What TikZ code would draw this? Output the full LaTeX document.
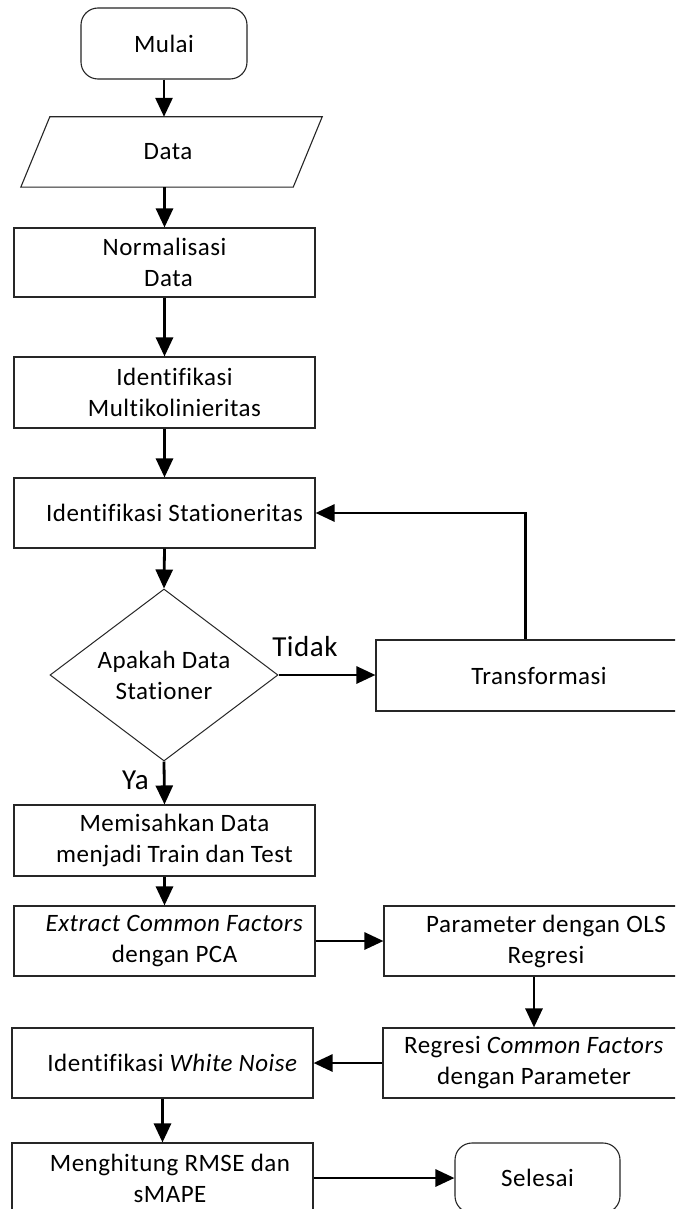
\documentclass[tikz,border=0pt]{standalone}
\usepackage{fontspec}
\setmainfont{Carlito}[LetterSpace=2, Ligatures=NoCommon]
\usetikzlibrary{arrows.meta,shapes.geometric,calc}

% left padding that pushes a centred line a little to the right
\newcommand{\lpad}[1][20pt]{\hspace*{#1}}

\tikzset{
  box/.style={draw=black!85, line width=1.1pt, rectangle, minimum height=70pt,
    inner sep=0pt, align=center, font=\fontsize{25}{31}\selectfont},
  term/.style={box, rounded corners=17pt},
  decision/.style={draw=black!85, line width=1pt, diamond, aspect=1.33,
    minimum width=228pt, minimum height=172pt, inner sep=0pt, align=center,
    font=\fontsize{25}{31}\selectfont},
  flow/.style={line width=2.8pt, -{Triangle[length=19pt,width=17pt]}},
  lbl/.style={font=\fontsize{29}{34}\selectfont, inner sep=0pt}
}

\begin{document}
\begin{tikzpicture}[x=1pt, y=-1pt]
\useasboundingbox (0,0) rectangle (675,1209);
\fill[white] (0,0) rectangle (675,1209);
\clip (0,0) rectangle (675,1209);

% main column
\node[term, minimum width=166pt, minimum height=71pt] (mulai) at (164,43.5) {\raisebox{-4pt}{Mulai}};
\node[minimum width=272pt, minimum height=70pt, inner sep=0pt,
      font=\fontsize{25}{31}\selectfont] (data) at (171.5,152) {\lpad[-7pt]Data};
\draw[draw=black!85, line width=1.1pt]
  ($(data.north west)+(14.5,0)$) -- ($(data.north east)+(14.5,0)$)
  -- ($(data.south east)+(-14.5,0)$) -- ($(data.south west)+(-14.5,0)$) -- cycle;
\node[box, minimum width=301pt, minimum height=69pt] (norm) at (164.5,262.5) {Normalisasi\\\lpad[8pt]Data};
\node[box, minimum width=301pt, minimum height=71pt] (multi) at (164.5,392.5) {\lpad Identifikasi\\\lpad Multikolinieritas};
\node[box, minimum width=301pt] (stat) at (164.5,513) {\lpad Identifikasi Stationeritas};
\node[decision] (dec) at (164,675) {Apakah Data\\Stationer};
\node[box, minimum width=326pt, minimum height=71pt] (trans) at (539,675.5) {Transformasi};
\node[box, minimum width=301pt, minimum height=71pt] (memi) at (164.5,840.5) {\lpad Memisahkan Data\\\lpad menjadi Train dan Test};
\node[box, minimum width=301pt] (extr) at (164.5,941) {\lpad\textit{Extract Common Factors}\\\lpad dengan PCA};
\node[box, minimum width=324pt] (param) at (546,941) {Parameter dengan OLS\\Regresi};
\node[box, minimum width=302pt] (reg) at (534,1063) {Regresi \textit{Common Factors}\\dengan Parameter};
\node[box, minimum width=301pt] (wn) at (162.5,1063) {\lpad Identifikasi \textit{White Noise}};
\node[box, minimum width=301pt] (hit) at (162.5,1178) {\lpad[15pt]Menghitung RMSE dan\\\lpad[15pt]sMAPE};
\node[term, minimum width=165pt] (sel) at (537.5,1178) {Selesai};

% branch labels
\node[lbl] (tidak) at (305,647) {Tidak};
\node[lbl] (ya) at (135.5,780) {Ya};

% connectors
\draw[flow] (mulai.south) -- (mulai.south |- data.north);
\draw[flow] (data.south -| norm.north) -- (norm.north);
\draw[flow] (norm.south) -- (multi.north);
\draw[flow] (multi.south) -- (stat.north);
\draw[flow] (stat.south) -- (dec.north);
\draw[flow] (dec.east) -- (dec.east -| trans.west);
\draw[flow] ($(trans.north west)+(150,0)$) |- (stat.east);
\draw[flow] (dec.south) -- (memi.north);
\draw[flow] (memi.south) -- (extr.north);
\draw[flow] (extr.east) -- (param.west);
\draw[flow] (param.south -| reg.north) -- (reg.north);
\draw[flow] (reg.west) -- (wn.east);
\draw[flow] (wn.south) -- (hit.north);
\draw[flow] (hit.east) -- (sel.west);
\end{tikzpicture}
\end{document}
